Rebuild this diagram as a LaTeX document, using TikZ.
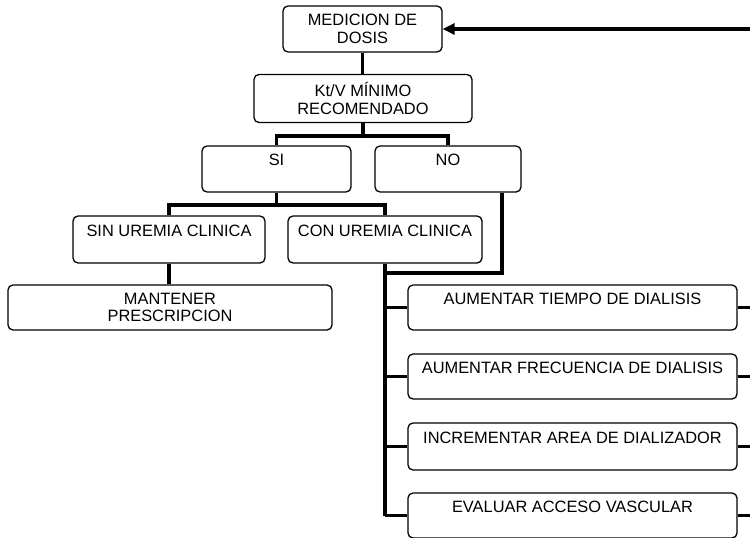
\documentclass[tikz,border=0pt]{standalone}
\usepackage{fontspec}
\setmainfont{Liberation Sans}
\usetikzlibrary{positioning,calc}
\usetikzlibrary{arrows.meta}
\tikzset{box/.style={draw=black,rounded corners=5pt,line width=1.3pt,align=center,inner sep=2pt,font=\fontsize{16.4}{17.5}\selectfont}, conn/.style={draw=black,line width=3.8pt}}

\begin{document}
\begin{tikzpicture}[x=1pt,y=-1pt]
\useasboundingbox (0,0) rectangle (750,538);
\coordinate (edge) at (750,0);
\node[box,minimum width=159pt,minimum height=46pt] (dose) at (362.5,29) {MEDICION DE\\DOSIS};
\node[box,minimum width=218pt,minimum height=48pt] (ktv) at (363,98.5) {Kt/V MÍNIMO\\RECOMENDADO};
\node[box,minimum width=149pt,minimum height=46pt] (si) at (276.5,169) {SI\\\phantom{I}};
\node[box,minimum width=146pt,minimum height=46pt] (no) at (448,169) {NO\\\phantom{I}};
\node[box,minimum width=192pt,minimum height=47pt] (sin) at (169,239.5) {SIN UREMIA CLINICA\\\phantom{I}};
\node[box,minimum width=194pt,minimum height=47pt] (con) at (385,239.5) {CON UREMIA CLINICA\\\phantom{I}};
\node[box,minimum width=324pt,minimum height=45pt] (keep) at (170,307.5) {MANTENER\\PRESCRIPCION};
\node[box,minimum width=329pt,minimum height=45pt] (act1) at (572.5,307.5) {AUMENTAR TIEMPO DE DIALISIS\\\phantom{I}};
\node[box,minimum width=329pt,minimum height=45pt] (act2) at (572.5,376.5) {AUMENTAR FRECUENCIA DE DIALISIS\\\phantom{I}};
\node[box,minimum width=329pt,minimum height=47pt] (act3) at (572.5,446.5) {INCREMENTAR AREA DE DIALIZADOR\\\phantom{I}};
\node[box,minimum width=329pt,minimum height=45pt] (act4) at (572.5,515.5) {EVALUAR ACCESO VASCULAR\\\phantom{I}};
\draw[conn] (dose.south) -- (dose.south |- ktv.north);
\draw[conn] (ktv.south) -- ++(0,13) coordinate (kj) (kj) -| (si.north) (kj) -| (no.north);
\draw[conn] (si.south) -- ++(0,12.5) coordinate (sj) (sj) -| (sin.north) (sj) -| (con.north);
\draw[conn] (sin.south) -- (sin.south |- keep.north);
\draw[conn] ([xshift=54pt]no.south) |- (con.south |- 0,273);
\draw[conn] (con.south) -- (con.south |- act4.west);
\foreach \n in {1,...,4}{
\draw[conn] (con.south |- act\n.west) -- (act\n.west);
\draw[conn] (act\n.east) -- (act\n.east -| edge);
}
\draw[conn,-{Triangle[length=12pt,width=11pt]}] (dose.east -| edge) -- (dose.east);
\end{tikzpicture}
\end{document}
